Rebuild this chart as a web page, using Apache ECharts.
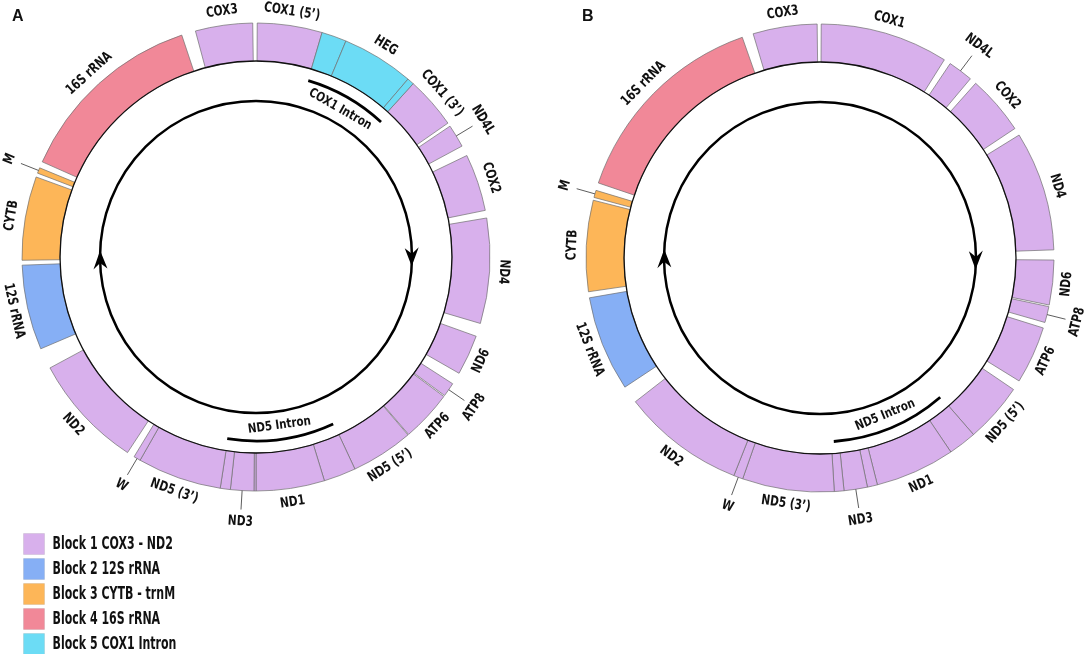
<!DOCTYPE html>
<html>
<head>
<meta charset="utf-8">
<script src="https://cdn.jsdelivr.net/npm/echarts@6.0.0/dist/echarts.min.js"></script>
<style>
html, body { margin: 0; padding: 0; background: #fff; }
#chart { width: 1084px; height: 654px; }
</style>
</head>
<body>
<div id="chart"></div>
<script>
// blocks (legend)
const blockNames = ['Block 1 COX3 - ND2', 'Block 2 12S rRNA', 'Block 3 CYTB - trnM', 'Block 4 16S rRNA', 'Block 5 COX1 Intron'];
const blockColors = ['#d8b0ec', '#86aff5', '#fdb658', '#f18898', '#6cdcf5'];

// Panel A: gene arcs, degrees clockwise from the top
const genesA = ['COX1 (5’)', '', 'HEG', '', 'COX1 (3’)', 'ND4L', 'COX2', 'ND4', 'ND6', 'ATP8', 'ATP6', 'ND5 (5’)', '', 'ND1', '', 'ND3', '', 'ND5 (3’)', 'W', 'ND2', '12S rRNA', 'CYTB', 'M', '16S rRNA', 'COX3'];
const startA = [0.3, 16.4, 22.6, 40.5, 42.2, 56.0, 64.3, 80.4, 109.8, 122.8, 126.6, 139.5, 155.0, 163.0, 180.0, 180.5, 186.3, 188.8, 209.7, 213.3, 246.9, 269.2, 291.0, 294.0, 345.0];
const endA   = [16.4, 22.6, 40.5, 42.2, 55.1, 61.7, 78.5, 106.5, 119.8, 126.3, 139.3, 155.0, 163.0, 180.0, 180.5, 186.3, 188.8, 209.7, 211.4, 241.7, 268.0, 290.0, 292.4, 341.5, 359.2];
const blockA = [0, 4, 4, 4, 0, 0, 0, 0, 0, 0, 0, 0, 0, 0, 0, 0, 0, 0, 0, 0, 1, 2, 2, 3, 0];
const intronNamesA = ['COX1 Intron', 'ND5 Intron'];
const intronStartA = [16.5, 155.2];
const intronEndA   = [42.8, 189.0];
const arrowTipsA = [93.4, 272.4];

// Panel B
const genesB = ['COX1', 'ND4L', 'COX2', 'ND4', 'ND6', 'ATP8', 'ATP6', 'ND5 (5’)', '', 'ND1', '', 'ND3', '', 'ND5 (3’)', 'W', 'ND2', '12S rRNA', 'CYTB', 'M', '16S rRNA', 'COX3'];
const startB = [0.3, 33.8, 41.7, 58.3, 90.5, 102.0, 107.4, 124.2, 139.0, 146.0, 165.8, 168.3, 174.1, 176.5, 199.3, 201.6, 236.5, 261.7, 285.0, 288.7, 343.4];
const endB   = [32.1, 40.0, 56.4, 88.0, 101.6, 106.0, 121.7, 139.0, 146.0, 165.8, 168.3, 174.1, 176.5, 199.3, 201.6, 232.1, 260.2, 284.3, 286.8, 340.6, 359.3];
const blockB = [0, 0, 0, 0, 0, 0, 0, 0, 0, 0, 0, 0, 0, 0, 0, 0, 1, 2, 2, 3, 0];
const intronNamesB = ['ND5 Intron'];
const intronStartB = [139.2];
const intronEndB   = [175.7];
const arrowTipsB = [94.2, 273.2];

const FONT = "'DejaVu Sans Condensed', 'DejaVu Sans', sans-serif";
const R_MAX = 280, R_IN = 196, R_OUT = 234, R_LABEL = 248, R_TAG = 265;
const R_INTRON = 184, R_INTRON_LABEL = 170, R_ARROW = 156;

const panels = [
    { center: [256, 257], genes: genesA, start: startA, end: endA, block: blockA,
      intronNames: intronNamesA, intronStart: intronStartA, intronEnd: intronEndA, arrows: arrowTipsA },
    { center: [820, 258], genes: genesB, start: startB, end: endB, block: blockB,
      intronNames: intronNamesB, intronStart: intronStartB, intronEnd: intronEndB, arrows: arrowTipsB }
];

function ang(api, cs, r, a) {
    const p = api.coord([r, a]);
    return Math.atan2(p[1] - cs.cy, p[0] - cs.cx);
}
function rad(api, cs, r) {
    const p = api.coord([r, 0]);
    return Math.hypot(p[0] - cs.cx, p[1] - cs.cy);
}
function span(api, cs, r, s, e) {
    const a0 = ang(api, cs, r, s);
    let a1 = ang(api, cs, r, e);
    while (a1 <= a0) a1 += Math.PI * 2;
    return [a0, a1];
}
// tangential text, kept upright on the lower half
function textRot(a) {
    const flip = a > 94.5 && a < 268;
    return (flip ? 180 - a : -a) * Math.PI / 180;
}

const series = [];
panels.forEach(function (pn, pi) {
    // ring segments, one series per block
    blockNames.forEach(function (bn, bi) {
        const data = [];
        pn.genes.forEach(function (g, gi) {
            if (pn.block[gi] === bi) data.push({ name: g, value: [pn.start[gi], pn.end[gi]] });
        });
        series.push({
            type: 'custom',
            name: bn,
            coordinateSystem: 'polar',
            polarIndex: pi,
            silent: true,
            itemStyle: { color: blockColors[bi] },
            data: data,
            renderItem: function (params, api) {
                const cs = params.coordSys;
                const a = span(api, cs, R_OUT, api.value(0), api.value(1));
                return {
                    type: 'sector',
                    shape: { cx: cs.cx, cy: cs.cy, r: rad(api, cs, R_OUT), r0: rad(api, cs, R_IN),
                             startAngle: a[0], endAngle: a[1], clockwise: true },
                    style: { fill: api.visual('color'), stroke: '#707070', lineWidth: 0.7 }
                };
            }
        });
    });

    // gene labels
    const labelData = [];
    pn.genes.forEach(function (g, gi) {
        if (g) labelData.push({ name: g, value: [pn.start[gi], pn.end[gi]] });
    });
    series.push({
        type: 'custom',
        coordinateSystem: 'polar',
        polarIndex: pi,
        silent: true,
        data: labelData,
        renderItem: function (params, api) {
            const s = api.value(0), e = api.value(1), mid = (s + e) / 2;
            const small = e - s < 7;
            const p = api.coord([small ? R_TAG : R_LABEL, mid]);
            const children = [{
                type: 'text', x: p[0], y: p[1], rotation: textRot(mid), scaleX: 0.84,
                style: { text: labelData[params.dataIndex].name, align: 'center', verticalAlign: 'middle',
                         fill: '#111', font: 'bold 14px ' + FONT }
            }];
            if (small) {
                const q0 = api.coord([R_OUT, mid]), q1 = api.coord([R_TAG - 12, mid]);
                children.push({
                    type: 'line', shape: { x1: q0[0], y1: q0[1], x2: q1[0], y2: q1[1] },
                    style: { stroke: '#333', lineWidth: 0.8 }
                });
            }
            return { type: 'group', children: children };
        }
    });

    // intron arcs
    const intronData = pn.intronNames.map(function (n, i) {
        return { name: n, value: [pn.intronStart[i], pn.intronEnd[i]] };
    });
    series.push({
        type: 'custom',
        coordinateSystem: 'polar',
        polarIndex: pi,
        silent: true,
        data: intronData,
        renderItem: function (params, api) {
            const cs = params.coordSys;
            const s = api.value(0), e = api.value(1), mid = (s + e) / 2;
            const a = span(api, cs, R_INTRON, s, e);
            const p = api.coord([R_INTRON_LABEL, mid]);
            return {
                type: 'group',
                children: [{
                    type: 'arc',
                    shape: { cx: cs.cx, cy: cs.cy, r: rad(api, cs, R_INTRON), startAngle: a[0], endAngle: a[1], clockwise: true },
                    style: { fill: 'none', stroke: '#000', lineWidth: 2.8 }
                }, {
                    type: 'text', x: p[0], y: p[1], rotation: textRot(mid), scaleX: 0.88,
                    style: { text: intronData[params.dataIndex].name, align: 'center', verticalAlign: 'middle',
                             fill: '#111', font: 'bold 13px ' + FONT }
                }]
            };
        }
    });

    // inner ring line, direction circle and arrowheads
    const arrowData = pn.arrows.map(function (t) { return [R_ARROW, t]; });
    series.push({
        type: 'custom',
        coordinateSystem: 'polar',
        polarIndex: pi,
        silent: true,
        data: arrowData,
        renderItem: function (params, api) {
            const cs = params.coordSys;
            const t = api.value(1);
            const tip = api.coord([R_ARROW, t]);
            const outer = api.coord([R_ARROW + 7, t - 6.8]);
            const notch = api.coord([R_ARROW, t - 4.6]);
            const inner = api.coord([R_ARROW - 7, t - 6.8]);
            const children = [{
                type: 'polygon',
                shape: { points: [tip, outer, notch, inner] },
                style: { fill: '#000' }
            }];
            if (params.dataIndex === 0) {
                children.unshift({
                    type: 'circle', shape: { cx: cs.cx, cy: cs.cy, r: rad(api, cs, R_ARROW) },
                    style: { fill: 'none', stroke: '#000', lineWidth: 2.5 }
                }, {
                    type: 'circle', shape: { cx: cs.cx, cy: cs.cy, r: rad(api, cs, R_IN) },
                    style: { fill: 'none', stroke: '#111', lineWidth: 1.3 }
                });
            }
            return { type: 'group', children: children };
        }
    });
});

// legend: swatches + condensed bold text
const legendItems = [];
blockNames.forEach(function (n, i) {
    legendItems.push({
        type: 'rect', shape: { x: 0, y: i * 25, width: 21, height: 21 },
        style: { fill: blockColors[i], stroke: 'rgba(0,0,0,0.08)', lineWidth: 1 }
    }, {
        type: 'text', x: 29, y: i * 25 + 11, scaleX: 0.72,
        style: { text: n, fill: '#111', font: 'bold 17px ' + FONT, align: 'left', verticalAlign: 'middle' }
    });
});

const chart = echarts.init(document.getElementById('chart'), null, { renderer: 'canvas' });
chart.setOption({
    animation: false,
    backgroundColor: '#fff',
    title: [
        { text: 'A', left: 12, top: 9, padding: 0, textStyle: { fontSize: 16, fontWeight: 'bold', fontFamily: 'Liberation Sans', color: '#111' } },
        { text: 'B', left: 582, top: 9, padding: 0, textStyle: { fontSize: 16, fontWeight: 'bold', fontFamily: 'Liberation Sans', color: '#111' } }
    ],
    graphic: [{ type: 'group', left: 23, top: 533, silent: true, children: legendItems }],
    polar: panels.map(function (pn) { return { center: pn.center, radius: [0, R_MAX] }; }),
    angleAxis: panels.map(function (pn, i) {
        return { polarIndex: i, type: 'value', min: 0, max: 360, startAngle: 90, clockwise: true, show: false };
    }),
    radiusAxis: panels.map(function (pn, i) {
        return { polarIndex: i, type: 'value', min: 0, max: R_MAX, show: false };
    }),
    series: series
});
</script>
</body>
</html>
